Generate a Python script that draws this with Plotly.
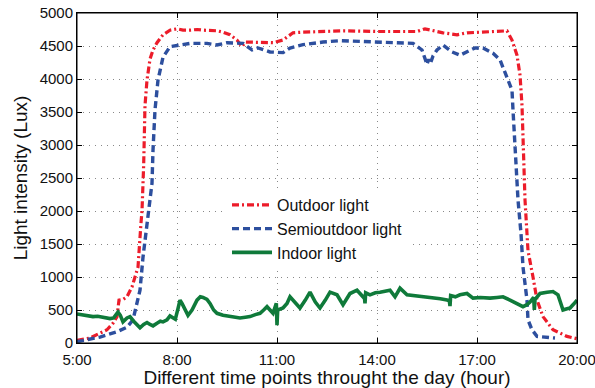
import plotly.graph_objects as go

# Time of day in hours, light intensity in lux
outdoor_t = [5.00, 5.20, 5.39, 5.69, 5.90, 6.08, 6.20, 6.26, 6.38, 6.50, 6.65, 6.74, 6.83, 6.92, 6.95,
             7.00, 7.02, 7.04, 7.10, 7.19, 7.28, 7.40, 7.58, 7.79, 8.00, 8.18, 8.39, 8.60, 8.78, 9.20,
             9.38, 9.59, 9.80, 9.95, 10.05, 10.19, 10.58, 10.88, 11.18, 11.48, 11.78, 12.50, 13.00,
             14.00, 15.20, 15.44, 15.60, 15.98, 16.40, 16.70, 17.15, 17.69, 17.90, 18.05, 18.20,
             18.29, 18.35, 18.44, 18.53, 18.68, 18.80, 18.98, 19.28, 19.70, 19.94, 20.00]
outdoor_lux = [40, 60, 75, 150, 200, 300, 400, 650, 660, 700, 850, 1000, 1150, 1820, 2000,
               2700, 3300, 3600, 3985, 4300, 4440, 4550, 4670, 4740, 4760, 4740, 4740, 4750, 4740, 4730,
               4710, 4670, 4590, 4490, 4560, 4560, 4550, 4550, 4590, 4700, 4710, 4720, 4730,
               4720, 4720, 4760, 4740, 4700, 4670, 4700, 4710, 4730, 4730, 4590, 4360,
               4060, 3600, 2170, 1400, 1000, 650, 400, 200, 100, 70, 65]

semi_t = [5.00, 5.39, 5.69, 6.20, 6.50, 6.68, 6.80, 6.89, 6.98, 7.10, 7.19, 7.25, 7.28, 7.34, 7.43,
          7.58, 7.79, 8.00, 8.09, 8.39, 8.90, 9.20, 9.50, 9.98, 10.25, 10.43, 10.79, 11.18, 11.39,
          11.78, 12.38, 12.89, 13.19, 14.09, 14.99, 15.08, 15.35, 15.44, 15.50, 15.55, 15.60, 15.68,
          15.80, 15.98, 16.25, 16.49, 16.70, 16.94, 17.18, 17.48, 17.69, 17.90, 18.05, 18.08, 18.14,
          18.23, 18.32, 18.38, 18.50, 18.53, 18.65, 18.80, 19.34]
semi_lux = [20, 60, 90, 170, 240, 350, 600, 800, 1300, 1820, 2220, 2420, 2920, 3530, 3985,
            4330, 4490, 4510, 4515, 4540, 4540, 4515, 4550, 4540, 4440, 4470, 4410, 4400, 4470,
            4520, 4560, 4580, 4575, 4560, 4540, 4540, 4440, 4320, 4220, 4300, 4230, 4350,
            4440, 4515, 4410, 4360, 4410, 4470, 4470, 4390, 4290, 4030, 3830, 3530, 2920,
            2170, 1660, 1150, 650, 350, 200, 100, 75]

indoor_t = [5.00, 5.10, 5.20, 5.35, 5.48, 5.62, 5.78, 5.90, 5.99, 6.10, 6.23, 6.30, 6.38, 6.50,
            6.59, 6.70, 6.80, 6.89, 7.00, 7.10, 7.19, 7.28, 7.40, 7.50, 7.58, 7.70, 7.79, 7.88,
            7.95, 8.03, 8.09, 8.15, 8.24, 8.33, 8.45, 8.60, 8.70, 8.78, 8.90, 8.99, 9.10, 9.20,
            9.38, 9.50, 9.59, 9.75, 9.89, 10.05, 10.19, 10.35, 10.49, 10.60, 10.70, 10.88, 10.98,
            11.00, 11.02, 11.18, 11.30, 11.39, 11.55, 11.69, 11.85, 11.99, 12.15, 12.29, 12.45,
            12.59, 12.80, 12.98, 13.19, 13.40, 13.58, 13.62, 13.64, 13.66, 13.79, 13.95, 14.09,
            14.25, 14.39, 14.54, 14.69, 14.90, 15.10, 15.29, 15.50, 15.68, 15.90, 16.10, 16.17,
            16.19, 16.21, 16.35, 16.49, 16.70, 16.88, 17.10, 17.39, 17.60, 17.78, 17.99, 18.20,
            18.38, 18.50, 18.59, 18.70, 18.72, 18.74, 18.89, 19.10, 19.28, 19.43, 19.58, 19.70,
            19.79, 19.90, 20.00]
indoor_lux = [440, 430, 420, 410, 400, 405, 395, 380, 370, 380, 470, 420, 320, 380,
              400, 330, 280, 230, 280, 310, 280, 260, 300, 330, 320, 350, 410, 380,
              360, 520, 650, 600, 500, 420, 500, 650, 700, 690, 660, 600, 500, 450,
              420, 410, 400, 395, 380, 390, 400, 430, 450, 500, 550, 450, 600,
              270, 500, 530, 600, 700, 600, 530, 650, 770, 620, 530, 650,
              770, 730, 580, 750, 800, 700, 720, 600, 760, 730, 760, 770,
              780, 800, 700, 830, 730, 720, 700, 700, 680, 670, 650, 640,
              560, 720, 700, 730, 750, 680, 690, 680, 690, 700, 650, 600,
              550, 580, 620, 690, 500, 660, 750, 770, 780, 730, 500, 520,
              530, 590, 650]

hour_ticks = [5, 8, 11, 14, 17, 20]
hour_labels = ["5:00", "8:00", "11:00", "14:00", "17:00", "20:00"]

FONT = "Liberation Sans, Arial, Helvetica, sans-serif"

fig = go.Figure()
fig.add_trace(go.Scatter(
    x=outdoor_t, y=outdoor_lux, mode="lines", name="Outdoor light",
    line=dict(color="#ec1c2a", width=3.2, dash="7px,3px,2px,3px"),
))
fig.add_trace(go.Scatter(
    x=semi_t, y=semi_lux, mode="lines", name="Semioutdoor light",
    line=dict(color="#2d4f9e", width=3.4, dash="7px,4px"),
))
fig.add_trace(go.Scatter(
    x=indoor_t, y=indoor_lux, mode="lines", name="Indoor light",
    line=dict(color="#0f7a3a", width=3.6),
))

axis_common = dict(
    showline=True, linecolor="black", linewidth=1, mirror="ticks",
    ticks="inside", ticklen=5, tickcolor="black",
    showgrid=True, gridcolor="#888888", gridwidth=1, griddash="1px,5px",
    zeroline=False, automargin=False, ticklabeloverflow="allow",
    tickfont=dict(family=FONT, size=15, color="#111"),
)

fig.update_xaxes(
    range=[5, 20], tickvals=hour_ticks, ticktext=hour_labels, ticklabelstandoff=3,
    title=dict(text="Different time points throught the day (hour)",
               font=dict(family=FONT, size=19, color="#111"), standoff=2),
    **axis_common,
)
fig.update_yaxes(
    range=[0, 5000], dtick=500,
    title=dict(text="Light intensity (Lux)",
               font=dict(family=FONT, size=19, color="#111"), standoff=6),
    **axis_common,
)

# Plot frame
fig.add_shape(type="rect", xref="paper", yref="paper", x0=0, y0=0, x1=1, y1=1,
              line=dict(color="black", width=1), fillcolor="rgba(0,0,0,0)", layer="above")

fig.update_layout(
    width=595, height=388, autosize=False,
    margin=dict(l=77, r=18, t=13, b=45, pad=0, autoexpand=False),
    paper_bgcolor="white", plot_bgcolor="white",
    font=dict(family=FONT, color="#111"),
    legend=dict(
        x=0.30, y=0.47, xanchor="left", yanchor="top",
        bgcolor="white", borderwidth=0,
        font=dict(family=FONT, size=16, color="#111"),
        itemwidth=40, tracegroupgap=1,
    ),
    showlegend=True,
)

fig.write_html("out.html")
